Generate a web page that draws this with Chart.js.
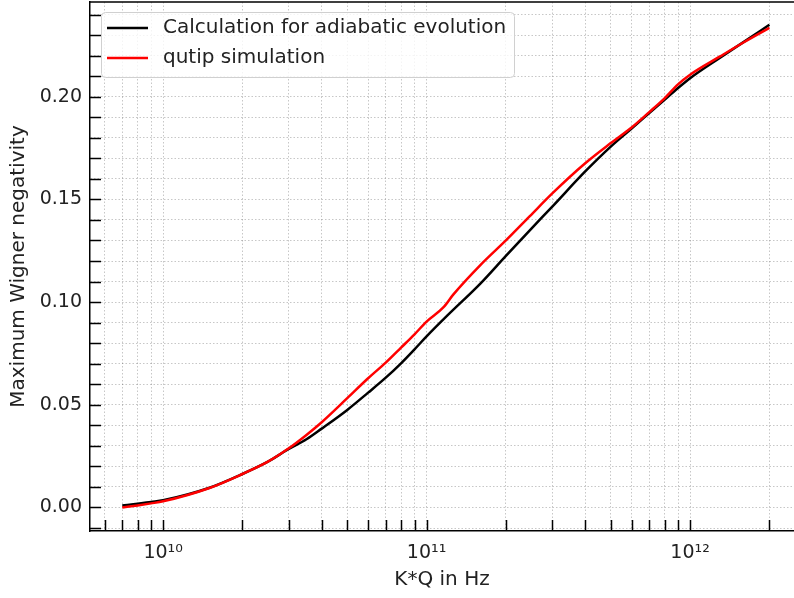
<!DOCTYPE html>
<html>
<head>
<meta charset="utf-8">
<script src="https://cdn.jsdelivr.net/npm/chart.js@4.4.1/dist/chart.umd.min.js"></script>
<style>
    body { margin: 0; background: #fff; }
    canvas { display: block; }
</style>
</head>
<body>
<canvas id="myChart" width="794" height="598"></canvas>
<script>
// K*Q values (Hz) and max Wigner negativity
const kqAdiabatic = [7e9, 8e9, 9e9, 1e10, 1.5e10, 2e10, 2.5e10, 3e10, 3.5e10, 4e10, 5e10, 6e10, 7e10, 8e10, 9e10,
    1e11, 1.2e11, 1.6e11, 2e11, 2.5e11, 3e11, 4e11, 5e11, 6e11, 7e11, 8e11, 9e11, 1e12, 1.3e12, 1.6e12, 2e12];
const negAdiabatic = [0.0010, 0.0018, 0.0027, 0.0035, 0.0096, 0.0163, 0.0223, 0.0285, 0.0332, 0.0384, 0.0475, 0.0559, 0.0632, 0.0702, 0.0770,
    0.0833, 0.0935, 0.1090, 0.1225, 0.1358, 0.1465, 0.1636, 0.1757, 0.1845, 0.1920, 0.1985, 0.2042, 0.2090, 0.2190, 0.2267, 0.2350];

const kqQutip = [7e9, 8e9, 9e9, 1e10, 1.5e10, 2e10, 2.5e10, 3e10, 3.5e10, 4e10, 5e10, 6e10, 7e10, 8e10, 9e10,
    1e11, 1.16e11, 1.26e11, 1.6e11, 2e11, 2.46e11, 3e11, 4e11, 5e11, 6e11, 7e11, 8e11, 9e11, 1e12, 1.3e12, 1.6e12, 2e12];
const negQutip = [0.0000, 0.0010, 0.0020, 0.0030, 0.0095, 0.0163, 0.0223, 0.0288, 0.0353, 0.0415, 0.0532, 0.0629, 0.0705, 0.0778, 0.0843,
    0.0905, 0.0975, 0.1035, 0.1180, 0.1300, 0.1417, 0.1529, 0.1676, 0.1774, 0.1850, 0.1925, 0.1992, 0.2060, 0.2107, 0.2196, 0.2265, 0.2335];

const seriesLabels = ['Calculation for adiabatic evolution', 'qutip simulation'];

const FONT = 'DejaVu Sans';
const TEXT = '#222';
const sup = '⁰¹²³⁴⁵⁶⁷⁸⁹';

function toPoints(xs, ys) {
    return xs.map((x, i) => ({x: x, y: ys[i]}));
}

// no edge padding from (empty) tick labels
function fixPadding(axis) {
    axis.paddingTop = 0;
    axis.paddingBottom = 0;
    axis.paddingLeft = 0;
    axis.paddingRight = 0;
}

// ticks pointing inward + top spine + legend box inside the axes
const axesDecor = {
    id: 'axesDecor',
    afterDraw(chart) {
        const {ctx, chartArea: a, scales: {x, y}} = chart;
        ctx.save();
        ctx.strokeStyle = '#000';
        ctx.lineWidth = 1.5;
        ctx.beginPath();
        x.ticks.forEach(t => {
            const px = Math.round(x.getPixelForValue(t.value)) + 0.5;
            ctx.moveTo(px, a.bottom);
            ctx.lineTo(px, a.bottom - 11);
        });
        y.ticks.forEach(t => {
            const py = Math.round(y.getPixelForValue(t.value)) + 0.5;
            ctx.moveTo(a.left, py);
            ctx.lineTo(a.left + 11, py);
        });
        ctx.moveTo(a.left, a.top);
        ctx.lineTo(a.right, a.top);
        ctx.stroke();

        // legend
        const lx = 101.5, ly = 12.5, lw = 413, lh = 65;
        ctx.beginPath();
        ctx.roundRect(lx, ly, lw, lh, 4);
        ctx.fillStyle = 'rgba(255,255,255,0.8)';
        ctx.fill();
        ctx.strokeStyle = '#d0d0d0';
        ctx.lineWidth = 1;
        ctx.stroke();

        ctx.font = '20px "' + FONT + '"';
        ctx.textBaseline = 'middle';
        ctx.textAlign = 'left';
        chart.data.datasets.forEach((ds, i) => {
            const rowY = 28 + i * 30;
            ctx.beginPath();
            ctx.strokeStyle = ds.borderColor;
            ctx.lineWidth = 2.5;
            ctx.moveTo(107, rowY);
            ctx.lineTo(148, rowY);
            ctx.stroke();
            ctx.fillStyle = TEXT;
            ctx.fillText(ds.label, 163, rowY);
        });
        ctx.restore();
    }
};

const gridStyle = {
    color: 'rgba(0,0,0,0.22)',
    lineWidth: 1,
    drawTicks: false
};

let config = {
    type: 'line',
    data: {
        datasets: [{
            label: seriesLabels[0],
            data: toPoints(kqAdiabatic, negAdiabatic),
            borderColor: '#000000',
            borderWidth: 2.5,
            pointRadius: 0,
            cubicInterpolationMode: 'monotone',
            order: 1
        }, {
            label: seriesLabels[1],
            data: toPoints(kqQutip, negQutip),
            borderColor: '#ff0000',
            borderWidth: 2.5,
            pointRadius: 0,
            cubicInterpolationMode: 'monotone',
            order: 0
        }]
    },
    options: {
        responsive: false,
        animation: false,
        layout: {
            padding: {top: 2, right: 0, left: 0, bottom: 0}
        },
        scales: {
            x: {
                type: 'logarithmic',
                min: 5.28e9,
                max: 2.48e12,
                afterBuildTicks: (axis) => {
                    const ticks = [];
                    for (let e = 9; e <= 12; e++) {
                        for (let m = 1; m <= 9; m++) {
                            const v = m * Math.pow(10, e);
                            if (v >= axis.min && v <= axis.max) {
                                ticks.push({value: v, major: m === 1});
                            }
                        }
                    }
                    axis.ticks = ticks;
                },
                afterFit: (axis) => { axis.height = 67; fixPadding(axis); },
                ticks: {
                    autoSkip: false,
                    maxRotation: 0,
                    padding: 11,
                    color: TEXT,
                    font: {family: FONT, size: 19},
                    callback: (value) => {
                        const e = Math.log10(value);
                        if (Math.abs(e - Math.round(e)) > 1e-9) return '';
                        return '10' + String(Math.round(e)).split('').map(d => sup[+d]).join('');
                    }
                },
                grid: gridStyle,
                border: {display: true, color: '#000', width: 1.5, dash: [1.5, 2]},
                title: {
                    display: true,
                    text: 'K*Q in Hz',
                    color: TEXT,
                    font: {family: FONT, size: 20},
                    padding: {top: 0, bottom: 6}
                }
            },
            y: {
                type: 'linear',
                min: -0.01145,
                max: 0.2461,
                afterBuildTicks: (axis) => {
                    const ticks = [];
                    for (let k = -1; k <= 24; k++) {
                        ticks.push({value: k / 100});
                    }
                    axis.ticks = ticks;
                },
                afterFit: (axis) => { axis.width = 90; fixPadding(axis); },
                ticks: {
                    autoSkip: false,
                    padding: 8,
                    color: TEXT,
                    font: {family: FONT, size: 19},
                    callback: (value) => {
                        const k = Math.round(value * 100);
                        return (k >= 0 && k % 5 === 0) ? (k / 100).toFixed(2) : '';
                    }
                },
                grid: gridStyle,
                border: {display: true, color: '#000', width: 1.5, dash: [1.5, 2]},
                title: {
                    display: true,
                    text: 'Maximum Wigner negativity',
                    color: TEXT,
                    font: {family: FONT, size: 20},
                    padding: {top: 7, bottom: 0}
                }
            }
        },
        plugins: {
            legend: {display: false},
            tooltip: {enabled: false}
        }
    },
    plugins: [axesDecor]
};

let myChart = new Chart(
    document.getElementById('myChart'),
    config,
);
</script>
</body>
</html>
